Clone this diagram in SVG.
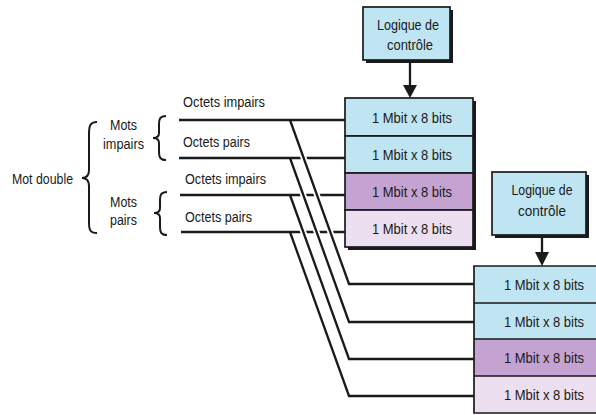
<svg xmlns="http://www.w3.org/2000/svg" width="596" height="415" viewBox="0 0 596 415">
<style>
text{font-family:"Liberation Sans",Arial,sans-serif;font-size:15.5px;fill:#1a1a1a}
.c{text-anchor:middle}
.s{font-size:14.5px}
.box{stroke:#1a1a1a;stroke-width:1.7}
.sh{fill:#1a1a1a}
.blue{fill:#bfe5f3}
.purple{fill:#c4a3d2}
.lav{fill:#ecdff0}
.w{fill:none;stroke:#1a1a1a;stroke-width:2.3}
.halo{fill:none;stroke:#fff;stroke-width:6}
.br{fill:none;stroke:#1a1a1a;stroke-width:2}
</style>
<rect width="596" height="415" fill="#fff"/>

<g id="ctrl1">
<rect class="sh" x="366" y="10" width="87" height="53"/>
<rect class="box blue" x="363" y="7" width="87" height="53"/>
<text class="c" x="408" y="30" textLength="62" lengthAdjust="spacingAndGlyphs">Logique de</text>
<text class="c" x="410" y="50" textLength="46" lengthAdjust="spacingAndGlyphs">contrôle</text>
</g>

<g id="ctrl2">
<rect class="sh" x="495" y="175" width="94" height="63"/>
<rect class="box blue" x="492" y="172" width="94" height="63"/>
<text class="c" x="542" y="195" textLength="61" lengthAdjust="spacingAndGlyphs">Logique de</text>
<text class="c" x="542" y="216" textLength="48" lengthAdjust="spacingAndGlyphs">contrôle</text>
</g>

<g id="stack1">
<rect class="sh" x="348" y="101" width="128" height="149"/>
<rect class="box blue" x="345" y="98" width="128" height="38"/>
<rect class="box blue" x="345" y="136" width="128" height="37"/>
<rect class="box purple" x="345" y="173" width="128" height="37"/>
<rect class="box lav" x="345" y="210" width="128" height="37"/>
<text class="c" x="412" y="123" textLength="80" lengthAdjust="spacingAndGlyphs">1 Mbit x 8 bits</text>
<text class="c" x="412" y="160" textLength="80" lengthAdjust="spacingAndGlyphs">1 Mbit x 8 bits</text>
<text class="c" x="412" y="197" textLength="80" lengthAdjust="spacingAndGlyphs">1 Mbit x 8 bits</text>
<text class="c" x="412" y="234" textLength="80" lengthAdjust="spacingAndGlyphs">1 Mbit x 8 bits</text>
</g>

<g id="stack2">
<rect class="blue" x="474" y="266" width="122" height="37"/>
<rect class="blue" x="474" y="303" width="122" height="36"/>
<rect class="purple" x="474" y="339" width="122" height="37"/>
<rect class="lav" x="474" y="376" width="122" height="37"/>
<path d="M596,266 H474 V413 H596 M474,303 H596 M474,339 H596 M474,376 H596" fill="none" stroke="#1a1a1a" stroke-width="1.7"/>
<text class="c s" x="544" y="290" textLength="80" lengthAdjust="spacingAndGlyphs">1 Mbit x 8 bits</text>
<text class="c s" x="544" y="327" textLength="80" lengthAdjust="spacingAndGlyphs">1 Mbit x 8 bits</text>
<text class="c s" x="544" y="363" textLength="80" lengthAdjust="spacingAndGlyphs">1 Mbit x 8 bits</text>
<text class="c s" x="544" y="400" textLength="80" lengthAdjust="spacingAndGlyphs">1 Mbit x 8 bits</text>
</g>

<g id="labels">
<text x="12" y="184" textLength="61" lengthAdjust="spacingAndGlyphs">Mot double</text>
<text x="110" y="130" textLength="27" lengthAdjust="spacingAndGlyphs">Mots</text>
<text x="103" y="149" textLength="41" lengthAdjust="spacingAndGlyphs">impairs</text>
<text x="110" y="207" textLength="27" lengthAdjust="spacingAndGlyphs">Mots</text>
<text x="110" y="225" textLength="27" lengthAdjust="spacingAndGlyphs">pairs</text>
<text x="183" y="107" textLength="82" lengthAdjust="spacingAndGlyphs">Octets impairs</text>
<text x="183" y="147" textLength="67" lengthAdjust="spacingAndGlyphs">Octets pairs</text>
<text x="185" y="184" textLength="81" lengthAdjust="spacingAndGlyphs">Octets impairs</text>
<text x="185" y="222" textLength="67" lengthAdjust="spacingAndGlyphs">Octets pairs</text>
<path class="br" d="M97,122 C90,122 89,126 89,134 L89,170 C89,176 86,178 82,178 C86,178 89,180 89,186 L89,222 C89,230 90,233 97,233"/>
<path class="br" d="M166,116 C160,116 159,119 159,124 L159,133 C159,136 157,138 153,138 C157,138 159,140 159,143 L159,152 C159,157 160,160 166,160"/>
<path class="br" d="M167,192 C161,192 160,195 160,200 L160,208 C160,211 158,213 154,213 C158,213 160,215 160,218 L160,227 C160,232 161,235 167,235"/>
</g>

<g id="connectors">
<line class="w" x1="410" y1="60" x2="410" y2="87"/>
<polygon points="403,85 417,85 410,98" fill="#1a1a1a"/>
<line class="w" x1="542" y1="235" x2="542" y2="253"/>
<polygon points="535,252 549,252 542,266" fill="#1a1a1a"/>

<line class="w" x1="179" y1="120" x2="345" y2="120"/>
<line class="w" x1="179" y1="158" x2="345" y2="158"/>
<line class="w" x1="180" y1="195" x2="345" y2="195"/>
<line class="w" x1="181" y1="232" x2="345" y2="232"/>

<line class="halo" x1="293.6" y1="130" x2="345.4" y2="274"/>
<path class="w" d="M290,120 L349,284 L474,284"/>
<line class="halo" x1="293.6" y1="168" x2="345.4" y2="312"/>
<path class="w" d="M290,158 L349,322 L474,322"/>
<line class="halo" x1="293.6" y1="205" x2="345.4" y2="349"/>
<path class="w" d="M290,195 L349,359 L474,359"/>
<line class="halo" x1="293.6" y1="242" x2="345.4" y2="386"/>
<path class="w" d="M290,232 L349,396 L474,396"/>
</g>
</svg>
